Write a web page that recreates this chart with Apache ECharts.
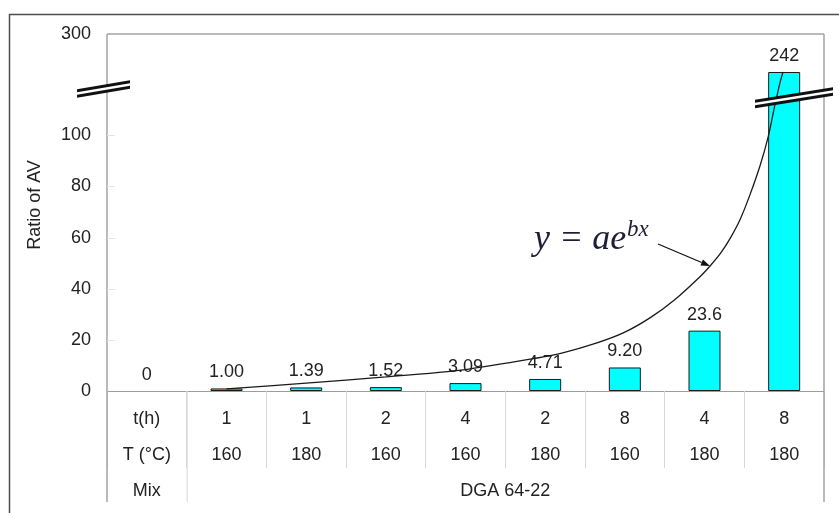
<!DOCTYPE html>
<html>
<head>
<meta charset="utf-8">
<script src="https://cdn.jsdelivr.net/npm/echarts@6/dist/echarts.min.js"></script>
<style>
  html, body { margin: 0; padding: 0; background: #ffffff; }
  #chart { width: 839px; height: 513px; }
</style>
</head>
<body>
<div id="chart"></div>
<script>
// Table rows under the chart (column 0 holds the row headers)
const hours = ['t(h)', '1', '1', '2', '4', '2', '8', '4', '8'];
const temps = ['T (°C)', '160', '180', '160', '160', '180', '160', '180', '180'];
const mixHeader = 'Mix';
const mixName = 'DGA 64-22';

// Ratio of AV per condition (column 0 is the header column)
const ratios = [0, 1.00, 1.39, 1.52, 3.09, 4.71, 9.20, 23.6, 242];

// Exponential trend curve y = a·e^(bx): [column position, value]
const fitLower = [
  [1.00, 0.8], [2.00, 3.1], [3.00, 5.5], [4.00, 8.4], [4.90, 12.9],
  [5.22, 14.9], [5.65, 18.8], [5.98, 22.7], [6.32, 28.7], [6.63, 35.8],
  [6.94, 44.6], [7.07, 48.9], [7.20, 53.8], [7.32, 59.6], [7.45, 67.3],
  [7.57, 76.7], [7.70, 88.4], [7.80, 99.5], [7.88, 111.3], [7.90, 114]
];
const fitUpper = [[7.90, 200], [7.94, 222], [7.985, 242]];

// Axis ranges and tick labels for the two parts of the broken value axis
const lowerRange = [0, 114];
const upperRange = [200, 300];
const lowerTicks = [0, 20, 40, 60, 80, 100];
const upperTicks = [300];

// Layout (pixels)
const W = 839, H = 513;
const PL = 107, PR = 824, PT = 34, PB = 391, BRK = 99.5;
const TICK_END = 468, TABLE_END = 502;
const COL = (PR - PL) / 9;

const FONT = '"Liberation Sans", Arial, sans-serif';
const TXT = '#222222';

const cats = hours.map((_, i) => String(i));

function fmt(v) {
  if (v === 0) return '0';
  if (v < 10) return v.toFixed(2);
  if (v < 100) return v.toFixed(1);
  return String(v);
}

const barStyle = { color: '#00ffff', borderColor: '#1a1a1a', borderWidth: 1 };
const labelStyle = { show: true, position: 'top', distance: 7, fontSize: 18, fontFamily: FONT, color: TXT };
const curveStyle = { color: '#1a1a1a', width: 1.3 };

function breakMark(x1, y1, x2, y2) {
  const band = (h, fill) => ({
    type: 'polygon', z: 100,
    shape: { points: [[x1, y1 - h], [x2, y2 - h], [x2, y2 + h], [x1, y1 + h]] },
    style: { fill: fill }
  });
  return [band(4.2, '#111111'), band(1.3, '#ffffff')];
}

function arrow(x1, y1, x2, y2) {
  const len = Math.hypot(x2 - x1, y2 - y1);
  const ux = (x2 - x1) / len, uy = (y2 - y1) / len;
  const bx = x2 - ux * 9, by = y2 - uy * 9;
  const px = -uy * 3.2, py = ux * 3.2;
  return [
    { type: 'line', z: 100, shape: { x1: x1, y1: y1, x2: bx, y2: by }, style: { stroke: '#111', lineWidth: 1.3 } },
    { type: 'polygon', z: 100, shape: { points: [[x2, y2], [bx + px, by + py], [bx - px, by - py]] }, style: { fill: '#111' } }
  ];
}

const chart = echarts.init(document.getElementById('chart'), null, { renderer: 'canvas' });

const option = {
  animation: false,
  backgroundColor: '#ffffff',
  grid: [
    { left: PL, right: W - PR, top: BRK, bottom: H - PB },
    { left: PL, right: W - PR, top: PT, height: BRK - PT }
  ],
  xAxis: [
    {
      gridIndex: 0, type: 'category', data: cats,
      axisLine: { lineStyle: { color: '#9c9c9c', width: 1 } },
      axisTick: { show: true, interval: 0, length: TICK_END - PB, lineStyle: { color: '#d8d8d8' } },
      axisLabel: {
        interval: 0, margin: 10,
        formatter: (v, i) => {
          let s = '{a|' + hours[i] + '}\n{a|' + temps[i] + '}';
          if (i === 0) s += '\n{a|' + mixHeader + '}';
          return s;
        },
        rich: { a: { fontSize: 18, lineHeight: 36, fontFamily: FONT, color: TXT, align: 'center' } }
      },
      splitLine: { show: false }
    },
    { gridIndex: 0, type: 'value', min: -0.5, max: 8.5, show: false },
    { gridIndex: 1, type: 'category', data: cats, show: false },
    { gridIndex: 1, type: 'value', min: -0.5, max: 8.5, show: false }
  ],
  yAxis: [
    {
      gridIndex: 0, type: 'value', min: lowerRange[0], max: lowerRange[1], interval: 20,
      axisLine: { show: false },
      axisTick: { show: false },
      axisLabel: {
        margin: 16, fontSize: 18, fontFamily: FONT, color: TXT,
        formatter: v => (lowerTicks.indexOf(v) >= 0 ? String(v) : '')
      },
      splitLine: { show: false }
    },
    {
      gridIndex: 1, type: 'value', min: upperRange[0], max: upperRange[1], interval: 100,
      axisLine: { show: false },
      axisTick: { show: false },
      axisLabel: {
        margin: 16, fontSize: 18, fontFamily: FONT, color: TXT, padding: [8, 0, 0, 0],
        formatter: v => (upperTicks.indexOf(v) >= 0 ? String(v) : '')
      },
      splitLine: { show: false }
    }
  ],
  series: [
    {
      type: 'bar', xAxisIndex: 0, yAxisIndex: 0, barWidth: 32, clip: true,
      data: ratios.map(v => (v === 0 ? { value: 0, itemStyle: { borderWidth: 0 } } : v)),
      itemStyle: barStyle,
      label: Object.assign({}, labelStyle, { formatter: p => (p.value > lowerRange[1] ? '' : fmt(p.value)) })
    },
    {
      type: 'bar', xAxisIndex: 2, yAxisIndex: 1, barWidth: 32, clip: true,
      data: ratios.map(v => (v > upperRange[0] ? v : '-')),
      itemStyle: barStyle,
      label: Object.assign({}, labelStyle, { formatter: p => fmt(p.value) })
    },
    {
      type: 'line', xAxisIndex: 1, yAxisIndex: 0, data: fitLower, smooth: 0.25,
      symbol: 'none', clip: true, lineStyle: curveStyle, z: 5
    },
    {
      type: 'line', xAxisIndex: 3, yAxisIndex: 1, data: fitUpper, smooth: 0.25,
      symbol: 'none', clip: true, lineStyle: curveStyle, z: 5
    }
  ],
  graphic: {
    elements: [
      // outer frame
      { type: 'line', z: 100, shape: { x1: 9, y1: 14.5, x2: W, y2: 14.5 }, style: { stroke: '#4d4d4d', lineWidth: 1.5 } },
      { type: 'line', z: 100, shape: { x1: 9.5, y1: 14, x2: 9.5, y2: H }, style: { stroke: '#4d4d4d', lineWidth: 1.5 } },
      // plot frame and table outline
      { type: 'line', z: 90, shape: { x1: PL, y1: PT, x2: PR, y2: PT }, style: { stroke: '#a3a3a3', lineWidth: 1.5 } },
      { type: 'line', z: 90, shape: { x1: PL, y1: PT, x2: PL, y2: TABLE_END }, style: { stroke: '#a3a3a3', lineWidth: 1.5 } },
      { type: 'line', z: 90, shape: { x1: PR, y1: PT, x2: PR, y2: TABLE_END }, style: { stroke: '#a3a3a3', lineWidth: 1.5 } },
      { type: 'line', z: 90, shape: { x1: PL + COL + 0.5, y1: PB, x2: PL + COL + 0.5, y2: TABLE_END }, style: { stroke: '#d8d8d8', lineWidth: 1 } },
      // short ticks on the value axis
      ...lowerTicks.slice(1).map(t => ({
        type: 'line', z: 90,
        shape: { x1: PL, y1: Math.round(PB - t * (PB - BRK) / lowerRange[1]) + 0.5, x2: PL + 8, y2: Math.round(PB - t * (PB - BRK) / lowerRange[1]) + 0.5 },
        style: { stroke: '#e2e2e2', lineWidth: 1 }
      })),
      // mix row
      {
        type: 'text', z: 100, x: (PL + COL + PR) / 2, y: PB + 10 + 36 * 2 + 18,
        style: { text: mixName, font: '18px ' + FONT, fill: TXT, align: 'center', verticalAlign: 'middle' }
      },
      // axis title
      {
        type: 'text', z: 100, x: 35, y: 205, rotation: Math.PI / 2,
        style: { text: 'Ratio of AV', font: '18px ' + FONT, fill: TXT, align: 'center', verticalAlign: 'middle' }
      },
      // equation of the trend curve
      {
        type: 'text', z: 100, x: 534, y: 240,
        style: { text: 'y = ae', font: 'italic 36px "Liberation Serif", "Times New Roman", serif', fill: '#1e1e38', align: 'left', verticalAlign: 'middle' }
      },
      {
        type: 'text', z: 100, x: 627, y: 230,
        style: { text: 'bx', font: 'italic 23px "Liberation Serif", "Times New Roman", serif', fill: '#1e1e38', align: 'left', verticalAlign: 'middle' }
      }
    ]
      .concat(arrow(658, 244, 710, 266))
      .concat(breakMark(77, 93.5, 130, 84.5))
      .concat(breakMark(755, 104, 833, 91.5))
  }
};

chart.setOption(option);
</script>
</body>
</html>
